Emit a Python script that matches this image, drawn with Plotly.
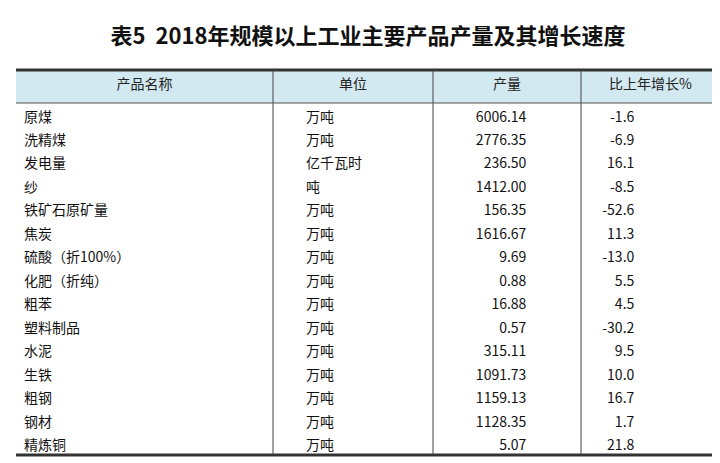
import plotly.graph_objects as go

headers = ["产品名称", "单位", "产量", "比上年增长%"]
products = ["原煤", "洗精煤", "发电量", "纱", "铁矿石原矿量", "焦炭", "硫酸（折100%）", "化肥（折纯）",
            "粗苯", "塑料制品", "水泥", "生铁", "粗钢", "钢材", "精炼铜"]
units = ["万吨", "万吨", "亿千瓦时", "吨", "万吨", "万吨", "万吨", "万吨", "万吨", "万吨", "万吨", "万吨", "万吨", "万吨", "万吨"]
output = [6006.14, 2776.35, 236.50, 1412.00, 156.35, 1616.67, 9.69, 0.88, 16.88, 0.57, 315.11, 1091.73, 1159.13, 1128.35, 5.07]
growth = [-1.6, -6.9, 16.1, -8.5, -52.6, 11.3, -13.0, 5.5, 4.5, -30.2, 9.5, 10.0, 16.7, 1.7, 21.8]

W, H = 720, 463
x0, x1 = 8, 712
ytop, ybot = 62, 447
colw = [257, 160, 148, 139]
hh = 33
rh = (ybot - ytop - hh) / len(products)

nbsp = "\u00a0"
fs = "\u2007"
zw = "\u200b"
unit_txt = [nbsp * 8 + u for u in units]
out_txt = [f"{v:.2f}" + fs * 6 + zw for v in output]
gr_txt = [f"{v:.1f}" + fs * 10 + zw for v in growth]

fig = go.Figure(go.Table(
    domain=dict(x=[x0 / W, x1 / W], y=[1 - ybot / H, 1 - ytop / H]),
    columnwidth=colw,
    header=dict(values=headers, fill_color="#d3e9f1", line=dict(color="#d3e9f1", width=0),
                align="center", height=hh,
                font=dict(family="Noto Sans CJK SC", size=14, color="#222")),
    cells=dict(values=[products, unit_txt, out_txt, gr_txt], fill_color="white",
               line=dict(color="white", width=0),
               align=["left", "left", "right", "right"], height=rh,
               font=dict(family="Noto Sans CJK SC", size=14, color="#111")),
))

shapes = []
def px(x): return x / W
def py(y): return 1 - y / H
shapes.append(dict(type="line", xref="paper", yref="paper", x0=px(x0), x1=px(x1), y0=py(ytop), y1=py(ytop), line=dict(color="#333", width=3)))
shapes.append(dict(type="line", xref="paper", yref="paper", x0=px(x0), x1=px(x1), y0=py(ytop + hh), y1=py(ytop + hh), line=dict(color="#555", width=1)))
shapes.append(dict(type="line", xref="paper", yref="paper", x0=px(x0), x1=px(x1), y0=py(ybot), y1=py(ybot), line=dict(color="#333", width=3)))
cx = x0
for w in colw[:-1]:
    cx += w
    shapes.append(dict(type="line", xref="paper", yref="paper", x0=px(cx), x1=px(cx), y0=py(ybot), y1=py(ytop), line=dict(color="#444", width=1)))

fig.update_layout(
    width=W, height=H, margin=dict(l=0, r=0, t=0, b=0), paper_bgcolor="white",
    shapes=shapes,
    title=dict(text="<b>表5  2018年规模以上工业主要产品产量及其增长速度</b>", x=0.5, xanchor="center",
               y=1 - 28 / H, yanchor="middle",
               font=dict(family="Noto Sans CJK SC", size=22, color="#111")),
)
fig.write_html("out.html")
